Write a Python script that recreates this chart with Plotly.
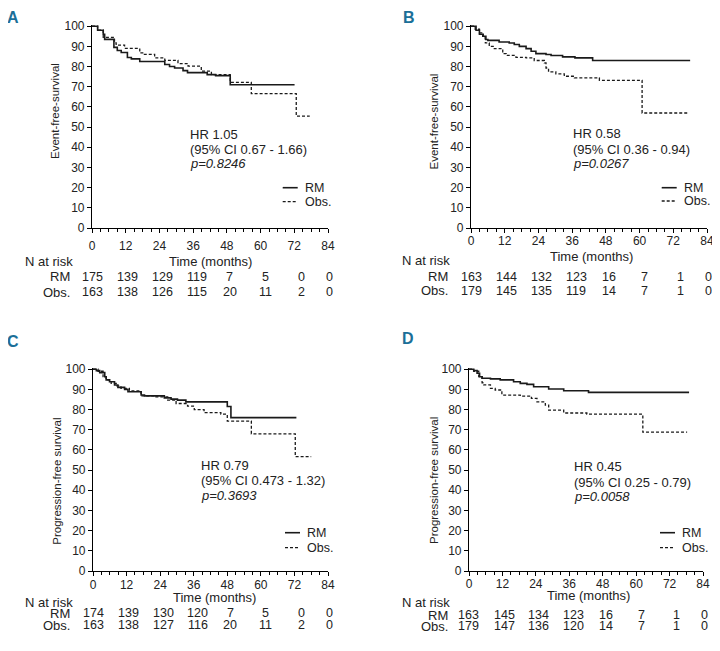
import plotly.graph_objects as go

W, H = 720, 651
OFF = 8  # page body margin of the browser
FONT = "Liberation Sans, Arial, sans-serif"
TXT = "#222222"

month_ticks = [0, 12, 24, 36, 48, 60, 72, 84]
surv_ticks = [0, 10, 20, 30, 40, 50, 60, 70, 80, 90, 100]

# ---------------- data ----------------
a_rm_t = [0, 2, 4, 4.5, 7.8, 9, 10.4, 12.6, 14, 17, 25.9, 27.6, 29.4, 32.4, 34, 41, 44, 49.2, 72.1]
a_rm_s = [100, 98, 96, 93.5, 89.5, 88, 87, 84.5, 83.8, 82.5, 81, 80, 79.3, 78, 77, 76, 75.5, 71, 71]
a_ob_t = [0, 2, 4, 8, 8.6, 11.6, 17, 18.3, 22.3, 25.9, 30.6, 34.2, 38.9, 42.5, 49.2, 56.7, 72.7, 77.5]
a_ob_s = [100, 98, 94.5, 91.7, 90.6, 89, 86.8, 86, 84.3, 83.1, 81.5, 80.2, 77.7, 76, 72.2, 66.6, 55.4, 55.4]

b_rm_t = [0, 1.8, 3, 4.2, 5.3, 6, 10, 13.6, 15.4, 17.2, 19.6, 21.4, 23.1, 26.7, 28.5, 32.6, 37, 43.3, 78]
b_rm_s = [100, 98, 96, 95, 93.4, 93, 92.2, 91.7, 90.9, 90, 88.9, 87.6, 86.4, 86, 85.5, 84.8, 84.3, 83, 83]
b_ob_t = [0, 1.5, 3, 4.4, 5.1, 6.5, 8.3, 11.3, 12.5, 16, 19.6, 22.5, 26.1, 26.7, 27.6, 30.2, 33.2, 36.8, 45.7, 60.9, 77.1]
b_ob_s = [100, 98.5, 96.7, 94.2, 91.7, 90, 88.9, 86.4, 85.5, 84.6, 84.3, 83, 81.8, 79.3, 77.4, 76.4, 75.2, 74.4, 73.2, 57, 57]

c_rm_t = [0, 1.2, 2.4, 4.2, 4.7, 5.9, 7.7, 8.9, 11.3, 12.5, 17.2, 18.4, 25.5, 27.9, 30.2, 33.2, 48, 49.3, 72.7]
c_rm_s = [100, 99.3, 98.3, 96.3, 94.7, 93.8, 92.2, 91, 90, 88.8, 87.2, 86.8, 85.8, 85.2, 84.7, 83.8, 81.5, 76, 76]
c_ob_t = [0, 1.8, 3.6, 4.7, 6.5, 8.3, 10, 13, 17.2, 21.9, 26.7, 29.7, 33.8, 36.2, 39.7, 45.7, 48, 56.6, 72.3, 78]
c_ob_s = [100, 99, 96.3, 94.7, 93, 91.7, 90.5, 89.3, 86.8, 86.3, 84.7, 83, 81.7, 80, 78.5, 77.7, 74.3, 68, 56.7, 56.7]

d_rm_t = [0, 1.7, 2.9, 3.8, 4.7, 7.7, 11.2, 16, 18.4, 20.8, 23.2, 28.6, 34, 42.9, 79]
d_rm_s = [100, 99.3, 98, 96.3, 95.5, 95.2, 94.7, 93.8, 93, 92.5, 91.3, 90.2, 89.3, 88.5, 88.5]
d_ob_t = [0, 1.7, 3.5, 4.7, 5.3, 7.7, 9.4, 11.8, 18.4, 22.4, 24.4, 27.4, 28.6, 34, 42.3, 62.4, 78.3]
d_ob_s = [100, 99, 96.3, 93.3, 92.2, 90.5, 89.7, 87.2, 86.7, 85.5, 83.8, 82.2, 79.7, 78.3, 77.7, 68.8, 68.8]

a_risk_rm = [175, 139, 129, 119, 7, 5, 0, 0]
a_risk_ob = [163, 138, 126, 115, 20, 11, 2, 0]
b_risk_rm = [163, 144, 132, 123, 16, 7, 1, 0]
b_risk_ob = [179, 145, 135, 119, 14, 7, 1, 0]
c_risk_rm = [174, 139, 130, 120, 7, 5, 0, 0]
c_risk_ob = [163, 138, 127, 116, 20, 11, 2, 0]
d_risk_rm = [163, 145, 134, 123, 16, 7, 1, 0]
d_risk_ob = [179, 147, 136, 120, 14, 7, 1, 0]

panel_letters = ["A", "B", "C", "D"]
y_titles = ["Event-free-survival", "Event-free-survival",
            "Progression-free survival", "Progression-free survival"]
hr_lines = [
    ["HR 1.05", "(95% CI 0.67 - 1.66)", "<i>p=0.8246</i>"],
    ["HR 0.58", "(95% CI 0.36 - 0.94)", "<i>p=0.0267</i>"],
    ["HR 0.79", "(95% CI 0.473 - 1.32)", "<i>p=0.3693</i>"],
    ["HR 0.45", "(95% CI 0.25 - 0.79)", "<i>p=0.0058</i>"],
]
group_names = ["RM", "Obs."]
x_title = "Time (months)"
risk_title = "N at risk"

# ---------------- layout geometry (window pixels) ----------------
def fx(x):
    return (x - OFF) / W

def fy(y):
    return 1 - (y - OFF) / H

panels = [
    dict(curves=((a_rm_t, a_rm_s), (a_ob_t, a_ob_s)), risk=(a_risk_rm, a_risk_ob),
         xd=(92, 328), yd=(25, 228), letter=(12.5, 17.5), ytitle=(55, 111),
         hr=(188, [134, 149, 164]), leg=(282.7, 297.7, 302.7, [187.7, 201.7]),
         xt=(210, 261), nrisk=(23, 261), rowlab=72, rows=[277, 292], standoff=2),
    dict(curves=((b_rm_t, b_rm_s), (b_ob_t, b_ob_s)), risk=(b_risk_rm, b_risk_ob),
         xd=(471, 707), yd=(25, 228), letter=(409, 17.5), ytitle=(433, 121.5),
         hr=(570.7, [133.3, 149, 163.3]), leg=(661.7, 676.7, 681.7, [187.7, 201]),
         xt=(591, 256.7), nrisk=(400, 260.7), rowlab=450, rows=[276.7, 291], standoff=-3),
    dict(curves=((c_rm_t, c_rm_s), (c_ob_t, c_ob_s)), risk=(c_risk_rm, c_risk_ob),
         xd=(93, 328), yd=(368, 571), letter=(13, 341), ytitle=(56.7, 481),
         hr=(199, [465, 480.7, 495]), leg=(285, 300, 305, [532.7, 547.7]),
         xt=(215, 597), nrisk=(23, 602), rowlab=72, rows=[613.3, 625], standoff=-2),
    dict(curves=((d_rm_t, d_rm_s), (d_ob_t, d_ob_s)), risk=(d_risk_rm, d_risk_ob),
         xd=(469, 703), yd=(368, 571), letter=(407.5, 339), ytitle=(434, 481),
         hr=(571.7, [466.7, 482.3, 496.7]), leg=(660, 675, 680, [532.7, 547.7]),
         xt=(588, 595), nrisk=(400, 602), rowlab=450, rows=[615, 626], standoff=-3),
]
risk_col_shift = [0, 2, 3, 4, 3, 5, 7, 1]
line_styles = [dict(color="#1a1a1a", width=1.6), dict(color="#1a1a1a", width=1.3, dash="3px,2px")]

fig = go.Figure()
annotations = []
shapes = []
layout_axes = {}

for i, p in enumerate(panels):
    sfx = "" if i == 0 else str(i + 1)
    xref, yref = "x" + sfx, "y" + sfx
    for (t, s), ls in zip(p["curves"], line_styles):
        fig.add_trace(go.Scatter(x=t, y=s, mode="lines", line=dict(shape="hv", **ls),
                                 xaxis=xref, yaxis=yref, showlegend=False, hoverinfo="skip"))
    layout_axes["xaxis" + sfx] = dict(
        domain=[fx(p["xd"][0]), fx(p["xd"][1])], anchor=yref, range=[0, 84], automargin=False,
        tickvals=month_ticks, ticks="outside", ticklen=4, tickwidth=1, tickcolor="black",
        minor=dict(dtick=3, tick0=0, ticks="outside", ticklen=2.5, tickwidth=1, tickcolor="black"),
        showline=True, linecolor="black", linewidth=1.2, showgrid=False, zeroline=False,
        tickfont=dict(family=FONT, size=12, color=TXT), ticklabelstandoff=int(p["standoff"]),
        fixedrange=True)
    layout_axes["yaxis" + sfx] = dict(
        domain=[fy(p["yd"][1]), fy(p["yd"][0])], anchor=xref, range=[0, 100.6], automargin=False,
        tickvals=surv_ticks, ticks="outside", ticklen=4, tickwidth=1, tickcolor="black",
        showline=True, linecolor="black", linewidth=1.2, showgrid=False, zeroline=False,
        tickfont=dict(family=FONT, size=12, color=TXT), fixedrange=True)

    # panel letter
    annotations.append(dict(text="<b>%s</b>" % panel_letters[i], x=fx(p["letter"][0]), y=fy(p["letter"][1]),
                            xref="paper", yref="paper", xanchor="center", yanchor="middle", showarrow=False,
                            font=dict(family="Liberation Sans Narrow, Arial Narrow, " + FONT, size=16, color="#1b6f98")))
    # y title
    annotations.append(dict(text=y_titles[i], x=fx(p["ytitle"][0]), y=fy(p["ytitle"][1]), textangle=-90,
                            xref="paper", yref="paper", xanchor="center", yanchor="middle", showarrow=False,
                            font=dict(family=FONT, size=11.5, color=TXT)))
    # x title
    annotations.append(dict(text=x_title, x=fx(p["xt"][0]), y=fy(p["xt"][1]),
                            xref="paper", yref="paper", xanchor="center", yanchor="middle", showarrow=False,
                            font=dict(family=FONT, size=13, color=TXT)))
    # HR block
    for txt, yy in zip(hr_lines[i], p["hr"][1]):
        annotations.append(dict(text=txt, x=fx(p["hr"][0]), y=fy(yy), xref="paper", yref="paper",
                                xanchor="left", yanchor="middle", showarrow=False,
                                font=dict(family=FONT, size=13, color=TXT)))
    # legend
    lx0, lx1, tx, lys = p["leg"]
    for name, ls, yy in zip(group_names, line_styles, lys):
        shapes.append(dict(type="line", xref="paper", yref="paper", x0=fx(lx0), x1=fx(lx1),
                           y0=fy(yy), y1=fy(yy), line=dict(color=ls["color"], width=ls["width"],
                                                           dash=ls.get("dash", "solid"))))
        annotations.append(dict(text=name, x=fx(tx), y=fy(yy), xref="paper", yref="paper",
                                xanchor="left", yanchor="middle", showarrow=False,
                                font=dict(family=FONT, size=12.5, color=TXT)))
    # risk table
    annotations.append(dict(text=risk_title, x=fx(p["nrisk"][0]), y=fy(p["nrisk"][1]), xref="paper", yref="paper",
                            xanchor="left", yanchor="middle", showarrow=False,
                            font=dict(family=FONT, size=13, color=TXT)))
    for name, counts, yy in zip(group_names, p["risk"], p["rows"]):
        annotations.append(dict(text=name, x=fx(p["rowlab"]), y=fy(yy), xref="paper", yref="paper",
                                xanchor="right", yanchor="middle", showarrow=False,
                                font=dict(family=FONT, size=13, color=TXT)))
        for m, n, sh in zip(month_ticks, counts, risk_col_shift):
            annotations.append(dict(text=str(n), x=m, y=fy(yy), xref=xref, yref="paper", xshift=sh,
                                    xanchor="center", yanchor="middle", showarrow=False,
                                    font=dict(family=FONT, size=12.5, color=TXT)))

fig.update_layout(width=W, height=H, margin=dict(l=0, r=0, t=0, b=0), template="none",
                  paper_bgcolor="white", plot_bgcolor="white", showlegend=False,
                  annotations=annotations, shapes=shapes, **layout_axes)
fig.write_html("out.html")
